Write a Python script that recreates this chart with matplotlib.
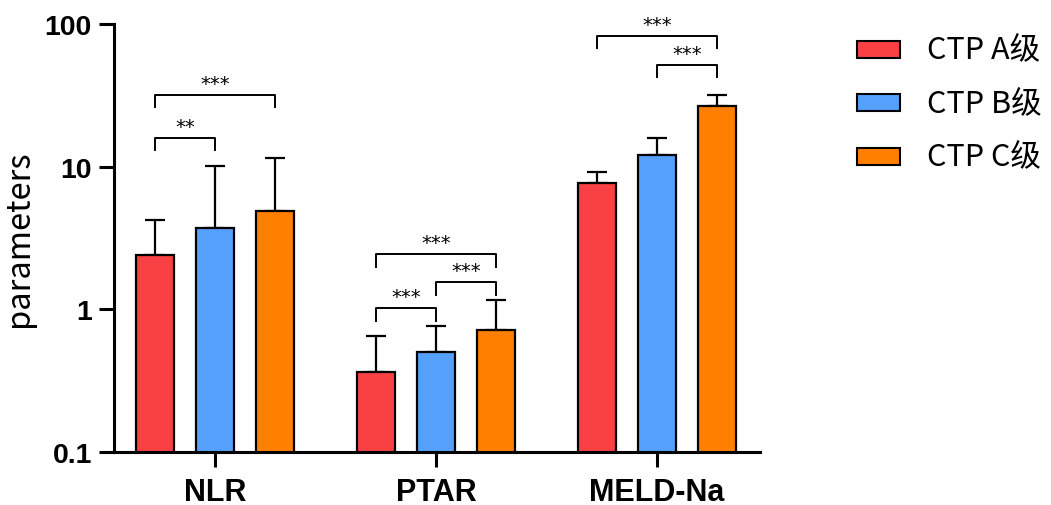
import numpy as np
import matplotlib
matplotlib.use("Agg")
from matplotlib import pyplot as plt
from matplotlib.patches import Rectangle

categories = ["NLR", "PTAR", "MELD-Na"]
groups = ["CTP A级", "CTP B级", "CTP C级"]
colors = ["#f94144", "#55a0fb", "#ff8000"]

means = {
    "CTP A级": [2.40, 0.362, 7.64],
    "CTP B级": [3.71, 0.50, 12.05],
    "CTP C级": [4.91, 0.72, 26.5],
}
err_top = {
    "CTP A级": [4.24, 0.647, 9.12],
    "CTP B级": [10.1, 0.76, 16.0],
    "CTP C级": [11.5, 1.16, 31.8],
}

# significance brackets: (category, group i, group j, bracket y, label)
sig = [
    (0, 0, 1, 16.0, "**"),
    (0, 0, 2, 32.0, "***"),
    (1, 0, 1, 1.02, "***"),
    (1, 1, 2, 1.56, "***"),
    (1, 0, 2, 2.45, "***"),
    (2, 1, 2, 52.0, "***"),
    (2, 0, 2, 83.0, "***"),
]

W, H = 1051, 506
fig = plt.figure(figsize=(W / 100, H / 100), dpi=100)
ax = fig.add_axes([114 / W, 1 - 453 / H, 646 / W, 428 / H])

x = np.arange(len(categories))
offset = 0.2715
width = 0.176

for k, g in enumerate(groups):
    xs = x + (k - 1) * offset
    m = np.array(means[g])
    up = np.array(err_top[g]) - m
    ax.bar(xs, m, width, color=colors[k], edgecolor="black", linewidth=1.6, zorder=2)
    ax.errorbar(xs, m, yerr=[np.zeros_like(m), up], fmt="none", ecolor="black",
                elinewidth=1.6, capsize=7, capthick=1.6, zorder=1)

ax.set_yscale("log")
ax.set_ylim(0.1, 100)
ax.set_xlim(-0.457, 2.466)

leg_h = 0.09  # bracket leg height in log-decades
for c, i, j, yb, lab in sig:
    x1 = c + (i - 1) * offset
    x2 = c + (j - 1) * offset
    ylow = yb / 10 ** leg_h
    ax.plot([x1, x1, x2, x2], [ylow, yb, yb, ylow], color="black", lw=1.4, clip_on=False)
    ax.text((x1 + x2) / 2, yb * 10 ** 0.012, lab, ha="center", va="bottom",
            fontsize=14, family="DejaVu Sans")

ax.set_yticks([0.1, 1, 10, 100])
ax.set_yticklabels(["0.1", "1", "10", "100"])
ax.minorticks_off()
ax.set_xticks(x)
ax.set_xticklabels(categories)

for lab in ax.get_yticklabels():
    lab.set_family("Liberation Sans")
    lab.set_fontweight("bold")
    lab.set_fontsize(20.5)
for lab in ax.get_xticklabels():
    lab.set_family("Liberation Sans")
    lab.set_fontweight("bold")
    lab.set_fontsize(22)

ax.tick_params(axis="both", width=2.2, length=11, color="black")
ax.tick_params(axis="y", pad=5)
ax.tick_params(axis="x", pad=7)
for s in ["top", "right"]:
    ax.spines[s].set_visible(False)
for s in ["left", "bottom"]:
    ax.spines[s].set_linewidth(2.2)

ax.set_ylabel("parameters", fontsize=23.5, family=["Noto Sans CJK SC", "DejaVu Sans"])
ax.yaxis.set_label_coords(-0.122, 0.5)

# legend drawn in figure pixels
for k, g in enumerate(groups):
    yc = 50 + k * 53.5
    fig.add_artist(Rectangle((857 / W, 1 - (yc + 8.5) / H), 43 / W, 17 / H,
                             transform=fig.transFigure, facecolor=colors[k],
                             edgecolor="black", linewidth=1.5))
    fig.text(927 / W, 1 - yc / H, g, ha="left", va="center", fontsize=22,
             family=["Noto Sans CJK SC", "DejaVu Sans"])

fig.savefig("out.png", dpi=100)
